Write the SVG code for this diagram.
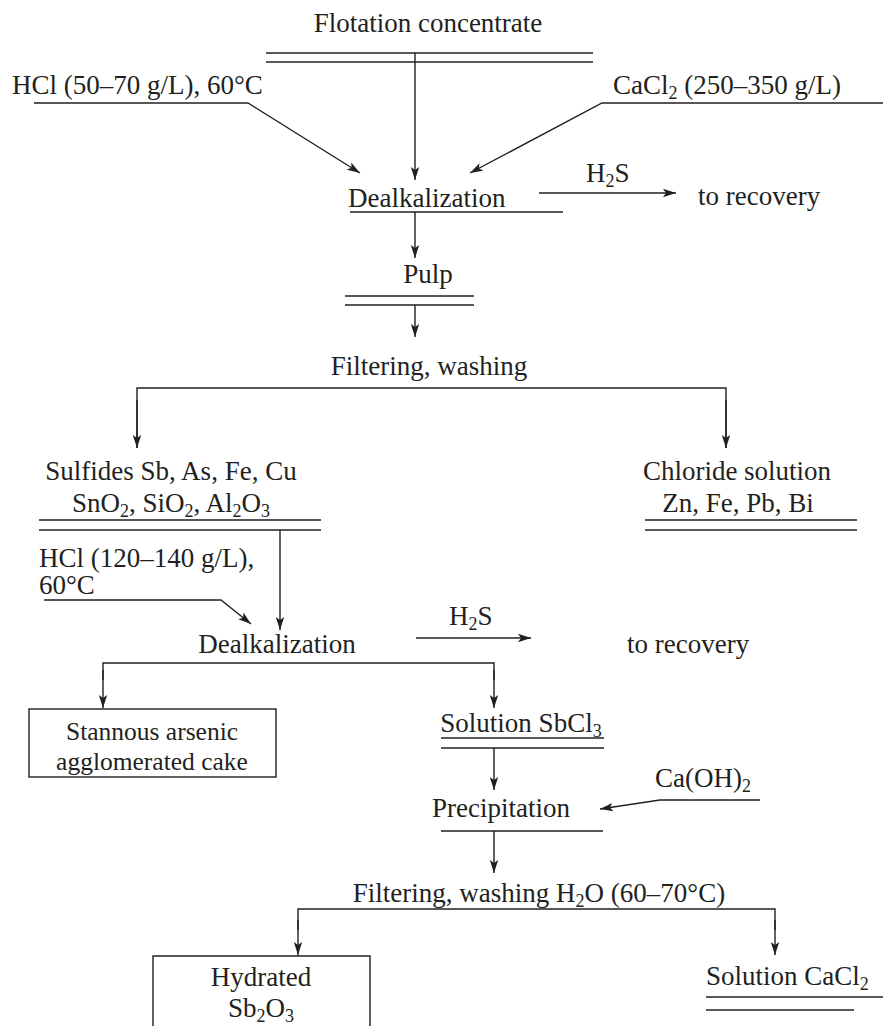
<svg xmlns="http://www.w3.org/2000/svg" width="883" height="1026" viewBox="0 0 883 1026">
<style>
text{font-family:"Liberation Serif","Times New Roman",serif;font-size:27px;fill:#231f20}
.c{text-anchor:middle}
.s{font-size:18px}
.t{font-size:25.5px}
line,polyline,path.l,rect.b{stroke:#231f20;stroke-width:1.4;fill:none}
</style>
<defs>
<marker id="a" markerUnits="userSpaceOnUse" markerWidth="14" markerHeight="10" refX="13" refY="5" orient="auto">
<path d="M0,0.8 L13,5 L0,9.2 L3,5 z" fill="#231f20"/>
</marker>
</defs>
<rect width="883" height="1026" style="fill:#fff;stroke:none"/>

<g id="flotation">
<text class="c" x="428" y="32">Flotation concentrate</text>
<line x1="266" y1="53" x2="593" y2="53"/>
<line x1="266" y1="62" x2="593" y2="62"/>
</g>
<g id="hcl1">
<text x="12" y="94">HCl (50–70 g/L), 60°C</text>
</g>
<g id="cacl2in">
<text x="613" y="94">CaCl<tspan class="s" dy="5">2</tspan><tspan dy="-5"> (250–350 g/L)</tspan></text>
</g>
<g id="dealk1">
<text x="348" y="207">Dealkalization</text>
<line x1="350" y1="212" x2="563" y2="212"/>
</g>
<g id="h2s1">
<text x="586" y="182">H<tspan class="s" dy="5">2</tspan><tspan dy="-5">S</tspan></text>
</g>
<g id="recovery1">
<text x="698" y="205">to recovery</text>
</g>
<g id="pulp">
<text class="c" x="428" y="283">Pulp</text>
<line x1="345" y1="296" x2="474" y2="296"/>
<line x1="345" y1="305" x2="474" y2="305"/>
</g>
<g id="filter1">
<text class="c" x="429" y="375">Filtering, washing</text>
</g>
<g id="sulfides">
<text class="c" x="171" y="480">Sulfides Sb, As, Fe, Cu</text>
<text class="c" x="171" y="512">SnO<tspan class="s" dy="5">2</tspan><tspan dy="-5">, SiO</tspan><tspan class="s" dy="5">2</tspan><tspan dy="-5">, Al</tspan><tspan class="s" dy="5">2</tspan><tspan dy="-5">O</tspan><tspan class="s" dy="5">3</tspan></text>
<line x1="39" y1="520" x2="321" y2="520"/>
<line x1="39" y1="530" x2="321" y2="530"/>
</g>
<g id="chloride">
<text class="c" x="737" y="480">Chloride solution</text>
<text class="c" x="738" y="512">Zn, Fe, Pb, Bi</text>
<line x1="645" y1="520" x2="857" y2="520"/>
<line x1="645" y1="530" x2="857" y2="530"/>
</g>
<g id="hcl2">
<text x="39" y="567">HCl (120–140 g/L),</text>
<text x="39" y="594">60°C</text>
</g>
<g id="dealk2">
<text class="c" x="277" y="653">Dealkalization</text>
</g>
<g id="h2s2">
<text x="449" y="625">H<tspan class="s" dy="5">2</tspan><tspan dy="-5">S</tspan></text>
</g>
<g id="recovery2">
<text x="627" y="653">to recovery</text>
</g>
<g id="cake">
<rect class="b" x="29" y="709" width="247" height="68"/>
<text class="c t" x="152" y="740">Stannous arsenic</text>
<text class="c t" x="152" y="770">agglomerated cake</text>
</g>
<g id="sbcl3">
<text class="c" x="521" y="732">Solution SbCl<tspan class="s" dy="5">3</tspan></text>
<line x1="441" y1="738" x2="604" y2="738"/>
<line x1="441" y1="748" x2="604" y2="748"/>
</g>
<g id="precip">
<text class="c" x="501" y="817">Precipitation</text>
<line x1="441" y1="831" x2="603" y2="831"/>
</g>
<g id="caoh2">
<text x="655" y="787">Ca(OH)<tspan class="s" dy="5">2</tspan></text>
</g>
<g id="filter2">
<text class="c" x="539" y="902">Filtering, washing H<tspan class="s" dy="5">2</tspan><tspan dy="-5">O (60–70°C)</tspan></text>
</g>
<g id="sb2o3">
<path class="l" d="M153,1030 V956 H370 V1030"/>
<text class="c" x="261" y="986">Hydrated</text>
<text class="c" x="261" y="1017">Sb<tspan class="s" dy="5">2</tspan><tspan dy="-5">O</tspan><tspan class="s" dy="5">3</tspan></text>
</g>
<g id="cacl2out">
<text x="706" y="985">Solution CaCl<tspan class="s" dy="5">2</tspan></text>
<line x1="706" y1="997" x2="883" y2="997"/>
<line x1="706" y1="1010" x2="854" y2="1010"/>
</g>

<g id="connectors">
<line x1="415" y1="53" x2="415" y2="180" marker-end="url(#a)"/>
<polyline points="34,103 248,103 360,173" marker-end="url(#a)"/>
<polyline points="883,103 602,103 470,173" marker-end="url(#a)"/>
<line x1="539" y1="193" x2="676" y2="193" marker-end="url(#a)"/>
<line x1="415" y1="212" x2="415" y2="258" marker-end="url(#a)"/>
<line x1="415" y1="305" x2="415" y2="337" marker-end="url(#a)"/>
<polyline points="137,448 137,388 726,388 726,448"/>
<line x1="137" y1="400" x2="137" y2="448" marker-end="url(#a)"/>
<line x1="726" y1="400" x2="726" y2="448" marker-end="url(#a)"/>
<line x1="280" y1="530" x2="280" y2="630" marker-end="url(#a)"/>
<polyline points="44,600 221,600 251,624" marker-end="url(#a)"/>
<line x1="416" y1="638" x2="531" y2="638" marker-end="url(#a)"/>
<polyline points="103,680 103,663 494,663 494,680"/>
<line x1="103" y1="670" x2="103" y2="708" marker-end="url(#a)"/>
<line x1="494" y1="670" x2="494" y2="708" marker-end="url(#a)"/>
<line x1="494" y1="748" x2="494" y2="790" marker-end="url(#a)"/>
<polyline points="760,800 660,800 600,809" marker-end="url(#a)"/>
<line x1="494" y1="831" x2="494" y2="873" marker-end="url(#a)"/>
<polyline points="298,930 298,909 775,909 775,930"/>
<line x1="298" y1="920" x2="298" y2="955" marker-end="url(#a)"/>
<line x1="775" y1="920" x2="775" y2="955" marker-end="url(#a)"/>
</g>
</svg>
